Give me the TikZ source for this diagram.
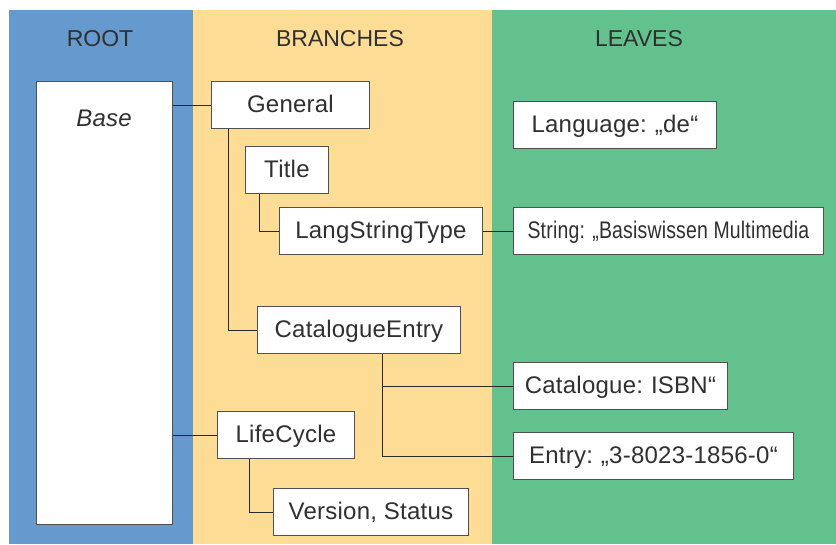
\documentclass[tikz,border=0pt]{standalone}
\usepackage{fontspec}
\setmainfont{Liberation Sans}
\newfontfamily\boxfont{Liberation Sans}[LetterSpace=1.0]
\usepackage{graphicx}
\definecolor{rootblue}{RGB}{102,153,206}
\definecolor{branchyellow}{RGB}{253,221,150}
\definecolor{leafgreen}{RGB}{99,193,141}
\definecolor{txt}{RGB}{48,48,48}
\definecolor{boxline}{RGB}{80,80,80}
\definecolor{conn}{RGB}{40,40,40}
\begin{document}
\begin{tikzpicture}[x=1pt,y=-1pt,
  every node/.style={text=txt},
  box/.style={draw=boxline, line width=0.9pt, fill=white, inner sep=0pt,
    font=\boxfont\fontsize{24}{28}\selectfont,
    minimum height=47pt, text height=20pt, text depth=5pt, anchor=north west},
  heading/.style={anchor=base, font=\fontsize{23}{27}\selectfont},
  link/.style={draw=conn, line width=0.9pt}]
\useasboundingbox (0,0) rectangle (836,544);
% columns
\fill[rootblue] (9,10) rectangle (193,544);
\fill[branchyellow] (193,10) rectangle (492,544);
\fill[leafgreen] (492,10) rectangle (836,544);
% headings
\node[heading] (hroot) at (100,46) {ROOT};
\node[heading] (hbranch) at (340,46) {BRANCHES};
\node[heading] (hleaf) at (639,46) {LEAVES};
% root
\node[box, minimum width=136pt, minimum height=443pt] (base) at (36,81) {};
\node[anchor=base, font=\boxfont\fontsize{24}{28}\selectfont\itshape] (basetxt) at (104,126) {Base};
% branches
\node[box, minimum width=158pt] (general) at (211,81) {General};
\node[box, minimum width=83pt] (title) at (245,146) {Title};
\node[box, minimum width=203pt] (lst) at (279,207) {LangStringType};
\node[box, minimum width=203pt] (catentry) at (257,306) {CatalogueEntry};
\node[box, minimum width=137pt] (lifecycle) at (217,411) {LifeCycle};
\node[box, minimum width=195pt] (version) at (273,488) {Version, Status};
% leaves
\node[box, minimum width=203pt] (language) at (513,101) {Language:\,\,„de“};
\node[box, minimum width=310pt] (string) at (513,207) {\scalebox{0.81}[1]{String: „Basiswissen Multimedia}};
\node[box, minimum width=214pt] (catalogue) at (513,362) {Catalogue:\,\,ISBN“};
\node[box, minimum width=280pt] (entry) at (513,432) {Entry:\,\,„3-8023-1856-0“};
% connectors
\draw[link] (base.east |- general.west) -- (general.west);
\draw[link] (base.east |- lifecycle.west) -- (lifecycle.west);
\draw[link] ([xshift=17pt]general.south west) |- (catentry.west);
\draw[link] ([xshift=14pt]title.south west) |- (lst.west);
\draw[link] (lst.east) -- (string.west);
\draw[link] ([xshift=125pt]catentry.south west) |- (catalogue.west);
\draw[link] ([xshift=125pt]catentry.south west) |- (entry.west);
\draw[link] ([xshift=32pt]lifecycle.south west) |- (version.west);
\end{tikzpicture}
\end{document}
